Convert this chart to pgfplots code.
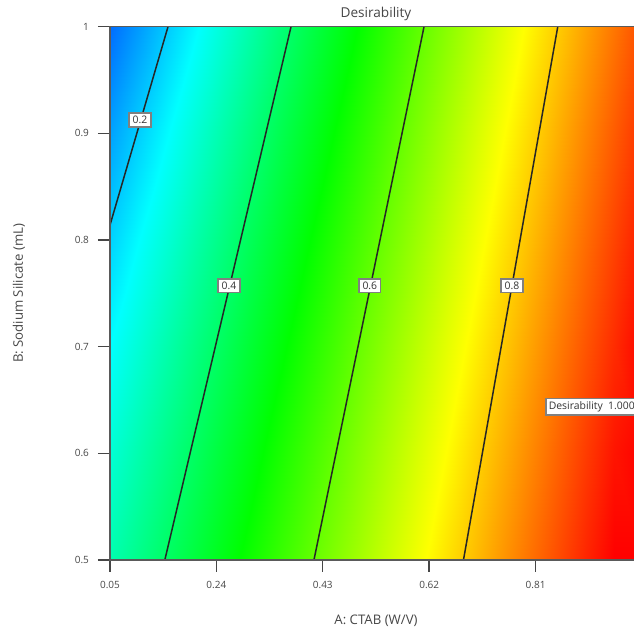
\documentclass[border=0pt]{standalone}
\usepackage{pgfplots}
\pgfplotsset{compat=1.18}
\usepackage{fontspec}
\setmainfont{Open Sans}
\definecolor{axgray}{RGB}{90,90,90}
\definecolor{tickgray}{RGB}{70,70,70}
\tikzset{clabel/.style={draw=gray, fill=white, line width=0.7pt, inner xsep=1.8pt, inner ysep=1.5pt, font=\fontsize{5.2}{6}\selectfont, text=black!80}}
\begin{document}
\begin{tikzpicture}
\useasboundingbox (0,0) rectangle (317pt,317pt);
\begin{axis}[
  at={(55pt,37pt)}, anchor=south west,
  scale only axis, width=266pt, height=266.67pt,
  xmin=0.05, xmax=1.0, ymin=0.5, ymax=1,
  xtick={0.05,0.24,0.43,0.62,0.81},
  xticklabels={0.05,0.24,0.43,0.62,0.81},
  ytick={0.5,0.6,0.7,0.8,0.9,1},
  yticklabels={0.5,0.6,0.7,0.8,0.9,1},
  /pgf/number format/assume math mode=true,
  tick align=outside, xtick pos=left, ytick pos=left,
  major tick length=6pt,
  tick style={tickgray, line width=0.7pt},
  axis line style={axgray, line width=0.8pt},
  ticklabel style={font=\fontsize{5}{6}\selectfont, text=tickgray},
  xticklabel style={yshift=-1pt},
  yticklabel style={xshift=-1pt},
  axis on top,
  colormap={de}{rgb255(0)=(0,0,255) rgb255(1)=(0,255,255) rgb255(2)=(0,255,0) rgb255(3)=(255,255,0) rgb255(4)=(255,0,0)},
  point meta min=0, point meta max=1,
  xlabel={A: CTAB (W/V)},
  xlabel style={at={(axis description cs:0.5,-0.1144)}, anchor=center, font=\fontsize{6.6}{8}\selectfont, text=tickgray},
  ylabel={B: Sodium Silicate (mL)},
  ylabel style={at={(axis description cs:-0.171,0.5)}, anchor=center, font=\fontsize{6.6}{8}\selectfont, text=tickgray},
]
\addplot[surf, shader=interp, mesh/cols=20, point meta=explicit] table[x=x, y=y, meta=d] {
x y d
0.05 0.5 0.328
0.10 0.5 0.365
0.15 0.5 0.402
0.20 0.5 0.439
0.25 0.5 0.477
0.30 0.5 0.514
0.35 0.5 0.552
0.40 0.5 0.589
0.45 0.5 0.627
0.50 0.5 0.664
0.55 0.5 0.702
0.60 0.5 0.739
0.65 0.5 0.777
0.70 0.5 0.814
0.75 0.5 0.852
0.80 0.5 0.889
0.85 0.5 0.926
0.90 0.5 0.964
0.95 0.5 1.000
1.00 0.5 1.000
0.05 0.6 0.291
0.10 0.6 0.329
0.15 0.6 0.367
0.20 0.6 0.405
0.25 0.6 0.444
0.30 0.6 0.482
0.35 0.6 0.521
0.40 0.6 0.559
0.45 0.6 0.597
0.50 0.6 0.636
0.55 0.6 0.674
0.60 0.6 0.712
0.65 0.6 0.750
0.70 0.6 0.789
0.75 0.6 0.827
0.80 0.6 0.865
0.85 0.6 0.903
0.90 0.6 0.942
0.95 0.6 0.980
1.00 0.6 1.000
0.05 0.7 0.250
0.10 0.7 0.290
0.15 0.7 0.330
0.20 0.7 0.370
0.25 0.7 0.409
0.30 0.7 0.449
0.35 0.7 0.488
0.40 0.7 0.527
0.45 0.7 0.566
0.50 0.7 0.606
0.55 0.7 0.645
0.60 0.7 0.684
0.65 0.7 0.723
0.70 0.7 0.762
0.75 0.7 0.801
0.80 0.7 0.840
0.85 0.7 0.879
0.90 0.7 0.918
0.95 0.7 0.957
1.00 0.7 0.997
0.05 0.8 0.206
0.10 0.8 0.248
0.15 0.8 0.289
0.20 0.8 0.331
0.25 0.8 0.372
0.30 0.8 0.414
0.35 0.8 0.454
0.40 0.8 0.494
0.45 0.8 0.534
0.50 0.8 0.574
0.55 0.8 0.614
0.60 0.8 0.654
0.65 0.8 0.694
0.70 0.8 0.734
0.75 0.8 0.774
0.80 0.8 0.814
0.85 0.8 0.854
0.90 0.8 0.894
0.95 0.8 0.934
1.00 0.8 0.974
0.05 0.9 0.158
0.10 0.9 0.202
0.15 0.9 0.245
0.20 0.9 0.289
0.25 0.9 0.332
0.30 0.9 0.375
0.35 0.9 0.418
0.40 0.9 0.459
0.45 0.9 0.500
0.50 0.9 0.541
0.55 0.9 0.582
0.60 0.9 0.623
0.65 0.9 0.664
0.70 0.9 0.705
0.75 0.9 0.746
0.80 0.9 0.787
0.85 0.9 0.828
0.90 0.9 0.869
0.95 0.9 0.910
1.00 0.9 0.951
0.05 1.0 0.106
0.10 1.0 0.151
0.15 1.0 0.197
0.20 1.0 0.242
0.25 1.0 0.288
0.30 1.0 0.333
0.35 1.0 0.379
0.40 1.0 0.422
0.45 1.0 0.465
0.50 1.0 0.507
0.55 1.0 0.549
0.60 1.0 0.591
0.65 1.0 0.633
0.70 1.0 0.675
0.75 1.0 0.717
0.80 1.0 0.759
0.85 1.0 0.800
0.90 1.0 0.842
0.95 1.0 0.884
1.00 1.0 0.926
};
\addplot[black!85, line width=0.75pt] coordinates {(0.05,0.814) (0.1536,1.0)};
\addplot[black!85, line width=0.75pt] coordinates {(0.1479,0.5) (0.3733,1.0)};
\addplot[black!85, line width=0.75pt] coordinates {(0.4142,0.5) (0.6108,1.0)};
\addplot[black!85, line width=0.75pt] coordinates {(0.6812,0.5) (0.8496,1.0)};
\node[clabel] at (axis cs:0.1036,0.9125) {0.2};
\node[clabel] at (axis cs:0.2625,0.757) {0.4};
\node[clabel] at (axis cs:0.514,0.757) {0.6};
\node[clabel] at (axis cs:0.768,0.757) {0.8};
\node[clabel, anchor=west, inner xsep=1.5pt] at (axis cs:0.8270,0.6435) {Desirability\ \ 1.000};
\end{axis}
\node[anchor=base, font=\fontsize{6.8}{8}\selectfont, text=tickgray] at (188pt,308.5pt) {Desirability};
\end{tikzpicture}
\end{document}
